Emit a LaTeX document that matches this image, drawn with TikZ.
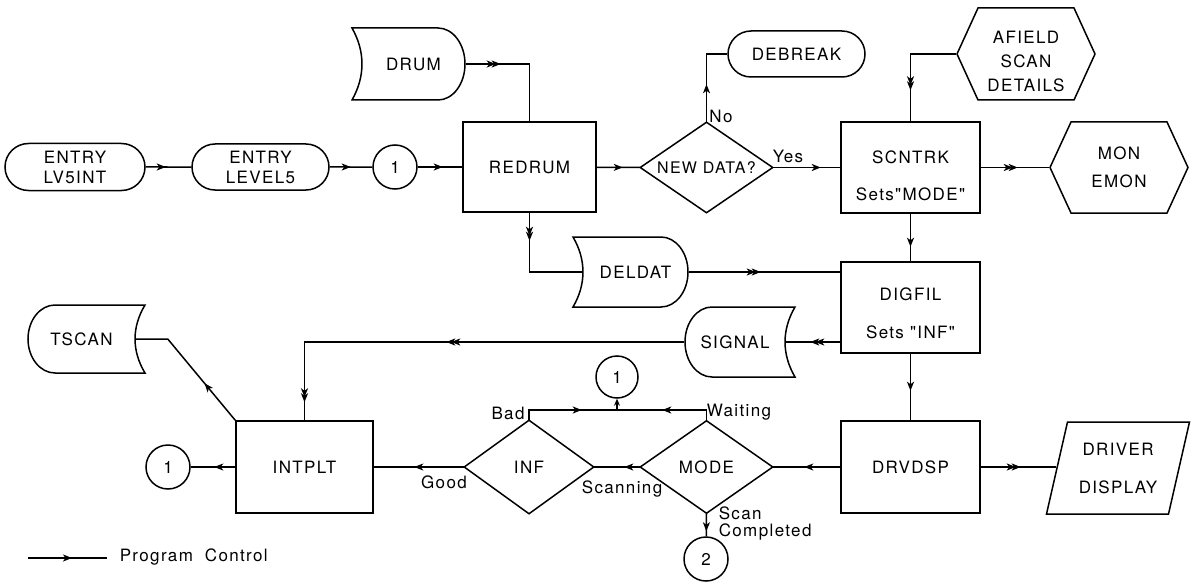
\documentclass[tikz,border=0pt]{standalone}
\usepackage{fontspec}
\setmainfont{TeX Gyre Heros}[LetterSpace=8,Ligatures=TeXOff]
\usetikzlibrary{shapes.misc,decorations.markings,arrows.meta,calc}
\tikzset{
  tip/.tip={Stealth[length=9pt,width=7pt,inset=2.5pt]},
  sz/.style n args={2}{minimum width=#1pt,minimum height=#2pt},
  proc/.style={draw,rectangle,inner sep=0pt},
  term/.style={draw,rounded rectangle,inner sep=0pt},
  ghost/.style={rectangle,inner sep=0pt},
  conn/.style={draw,circle,inner sep=0pt,minimum size=#1pt},
  lbl/.style={inner sep=1pt},
  pc/.style={postaction={decorate},decoration={markings,mark=at position #1pt with {\arrow{tip}}}},
  df/.style={postaction={decorate},decoration={markings,mark=at position #1pt with {\arrow{tip[sep=-4pt]tip}}}},
  dftwo/.style n args={2}{postaction={decorate},decoration={markings,
      mark=at position #1pt with {\arrow{tip[sep=-4pt]tip}},
      mark=at position #2pt with {\arrow{tip[sep=-4pt]tip}}}},
  pics/storR/.style args={#1/#2}{code={
    \draw ({-#1-10},{-#2}) -- ({#1-27},{-#2})
      .. controls ({#1-12.1},{-#2}) and ({#1},{-0.552*#2}) .. ({#1},0)
      .. controls ({#1},{0.552*#2}) and ({#1-12.1},{#2}) .. ({#1-27},{#2})
      -- ({-#1-10},{#2})
      .. controls ({-#1+3.3},{0.35*#2}) and ({-#1+3.3},{-0.35*#2}) .. cycle;}},
  pics/hexa/.style args={#1/#2}{code={
    \draw ({-#1},0) -- ({-#1+21},{-#2}) -- ({#1-21},{-#2}) -- ({#1},0)
      -- ({#1-21},{#2}) -- ({-#1+21},{#2}) -- cycle;}},
  pics/para/.style args={#1/#2}{code={
    \draw ({-#1+10.5},{-#2}) -- ({#1+10.5},{-#2}) -- ({#1-10.5},{#2})
      -- ({-#1-10.5},{#2}) -- cycle;}},
}
\begin{document}
\begin{tikzpicture}[x=1pt,y=-1pt,line width=1.5pt,
  every node/.style={font=\fontsize{17}{20}\selectfont}]
\useasboundingbox (0,0) rectangle (1191,583);

% ---- top row
\node[term,sz={140}{47},align=center] (lv5) at (75,167) {ENTRY\\LV5INT};
\node[term,sz={137}{46},align=center] (lev5) at (260.5,167) {ENTRY\\LEVEL5};
\node[conn=44] (c1a) at (395,167) {1};
\node[proc,sz={133}{90}] (redrum) at (529.5,167) {REDRUM};
\node[ghost,sz={103}{72}] (drum) at (413.5,64) {DRUM};
\pic at (drum) {storR=51.5/36};
\node[ghost,sz={131}{89},font=\fontsize{16}{20}\selectfont] (newdata) at (706.5,167.5) {NEW DATA?};
\draw (newdata.north) -- (newdata.east) -- (newdata.south) -- (newdata.west) -- cycle;
\node[term,sz={137}{46}] (debreak) at (796.5,54) {DEBREAK};
\node[proc,sz={139}{91},align=center] (scntrk) at (910.5,167.5) {\rule{0pt}{29pt}SCNTRK\\[17pt]Sets"MODE"};
\node[ghost,sz={138}{92},align=center,font=\fontsize{17}{24}\selectfont] (afield) at (1026,54) {\rule{0pt}{27pt}AFIELD\\SCAN\\DETAILS};
\pic at (afield) {hexa=69/46};
\node[ghost,sz={138}{91},align=center,font=\fontsize{17}{28}\selectfont] (mon) at (1119,167.5) {MON\\EMON};
\pic at (mon) {hexa=69/45.5};

% ---- middle
\node[ghost,sz={105}{70}] (deldat) at (635.5,272) {DELDAT};
\pic at (deldat) {storR=52.5/35};
\node[proc,sz={139}{91},align=center] (digfil) at (910.5,307.5) {\rule{0pt}{25pt}DIGFIL\\[18pt]Sets "INF"};
\node[ghost,sz={100}{70}] (signal) at (735,342) {SIGNAL};
\pic[xscale=-1] at (signal) {storR=50/35};
\node[ghost,sz={107}{68}] (tscan) at (81.5,339) {TSCAN};
\pic[xscale=-1] at (tscan) {storR=53.5/34};
\node[conn=42] (c1c) at (617,377) {1};

% ---- bottom row
\node[proc,sz={137}{92}] (intplt) at (304.5,467) {INTPLT};
\node[conn=44] (c1b) at (168,467) {1};
\node[ghost,sz={128}{92}] (inf) at (529,467) {INF};
\draw (inf.north) -- (inf.east) -- (inf.south) -- (inf.west) -- cycle;
\node[ghost,sz={131}{91}] (mode) at (706.5,467) {MODE};
\draw (mode.north) -- (mode.east) -- (mode.south) -- (mode.west) -- cycle;
\node[proc,sz={139}{92}] (drvdsp) at (910.5,467) {DRVDSP};
\node[ghost,sz={122}{92},align=center] (drv) at (1118,468) {DRIVER\\[18pt]DISPLAY};
\pic at (drv) {para=61/46};
\node[conn=44] (c2) at (706,559) {2};

% ---- labels
\node[lbl] (no) at (721,116) {No};
\node[lbl] (yes) at (788,156) {Yes};
\node[lbl] (bad) at (508,413) {Bad};
\node[lbl] (waiting) at (739,412) {Waiting};
\node[lbl] (good) at (444,482) {Good};
\node[lbl] (scanning) at (622,489) {Scanning};
\node[lbl,align=left,anchor=west,font=\fontsize{17}{17}\selectfont] (scanc) at (717,523) {Scan\\Completed};

% ---- connectors
\draw[pc=20] (lv5) -- (lev5);
\draw[pc=21] (lev5) -- (c1a);
\draw[pc=25] (c1a) -- (redrum);
\draw[pc=26] (redrum) -- (newdata.west);
\draw[pc=38] (newdata.north) |- (debreak.west);
\draw[pc=48] (newdata.east) -- (scntrk.west);
\draw[df=35] (drum.east) -| (redrum.north);
\draw[df=82] (afield.west) -| (scntrk.north);
\draw[df=37] (scntrk.east) -- (mon.west);
\draw[pc=33] (scntrk.south) -- (digfil.north);
\draw[df=28] (redrum.south) |- (deldat.west);
\draw[df=72] (deldat.east) -- (deldat.east -| digfil.west);
\draw[df=30] (digfil.west |- signal.east) -- (signal.east);
\draw[dftwo={238}{440}] (signal.west) -| (intplt.north);
\coordinate (tk) at ($(tscan.east)+(32,0)$);
\draw[pc=48] (intplt.north west) -- (tk) -- (tscan.east);
\draw[pc=21] (intplt) -- (c1b);
\draw[pc=50] (inf.west) -- (intplt);
\draw[pc=16] (mode.west) -- (inf.east);
\draw[pc=36] (drvdsp) -- (mode.east);
\draw[df=40] (drvdsp.east) -- (drvdsp.east -| drv.west);
\draw[pc=37] (digfil.south) -- (drvdsp.north);
\coordinate (jn) at (617,410);
\draw[pc=63] (inf.north) |- (jn);
\draw[pc=55] (mode.north) |- (jn);
\draw[-{Stealth[length=7pt,width=6pt]}] (jn) -- (c1c.south);
\draw[pc=18] (mode.south) -- (c2);

% ---- legend
\coordinate (lga) at (28,558);
\coordinate (lgb) at (107,558);
\draw[pc=44] (lga) -- (lgb);
\node[lbl,anchor=west] (legend) at (118,557) {Program\hspace{12pt}Control};
\end{tikzpicture}
\end{document}
